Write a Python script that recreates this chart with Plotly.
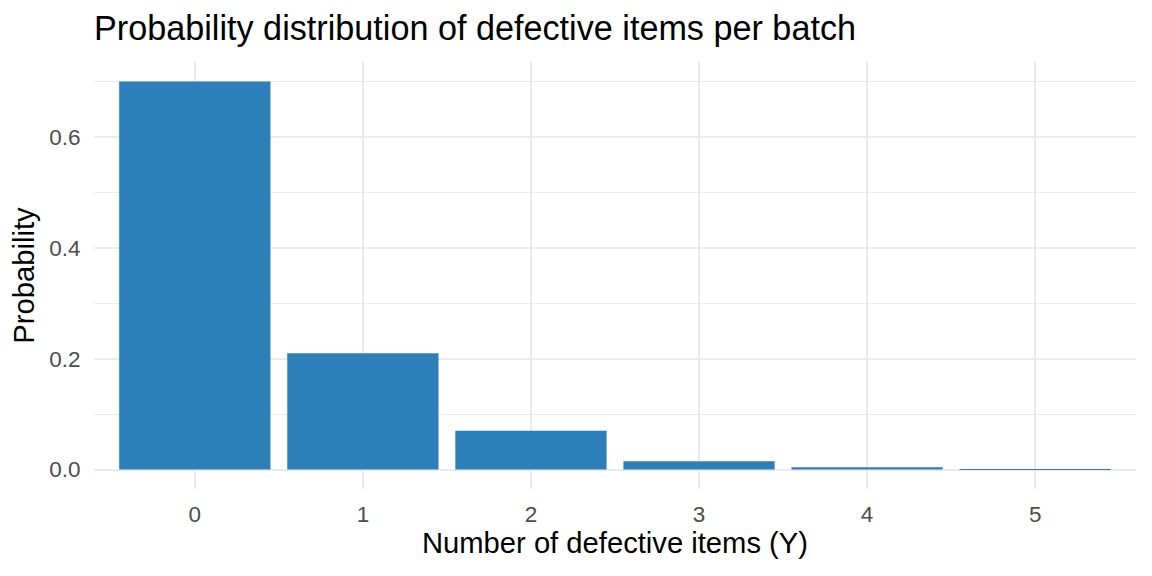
import plotly.graph_objects as go

# Data
defects = [0, 1, 2, 3, 4, 5]
probabilities = [0.70, 0.21, 0.07, 0.015, 0.004, 0.001]

fig = go.Figure()

fig.add_trace(go.Bar(
    x=defects,
    y=probabilities,
    width=0.9,
    marker=dict(color="#2c7fb8", line=dict(width=0)),
))

# page body adds an 8px margin, so the figure is drawn slightly smaller
fig.update_layout(
    width=1136,
    height=560,
    margin=dict(l=86, r=8, t=54, b=79),
    paper_bgcolor="white",
    plot_bgcolor="white",
    font=dict(family="Liberation Sans, Arial, sans-serif", color="black"),
    title=dict(
        text="Probability distribution of defective items per batch",
        font=dict(size=34.2, color="black"),
        x=0, xref="paper", xanchor="left",
        y=1 - 20 / 560, yref="container", yanchor="middle",
    ),
    showlegend=False,
    bargap=0.1,
)

fig.update_xaxes(
    title=dict(text="Number of defective items (Y)", font=dict(size=29.2, color="black"), standoff=5),
    tickmode="array",
    tickvals=defects,
    ticktext=[str(d) for d in defects],
    range=[-0.6, 5.6],
    tickfont=dict(size=22.5, color="#4d4d4d"),
    showgrid=True,
    gridcolor="#ebebeb",
    gridwidth=2,
    zeroline=False,
    showline=False,
    ticks="outside",
    ticklen=5,
    tickcolor="rgba(0,0,0,0)",
)

fig.update_yaxes(
    title=dict(text="Probability", font=dict(size=29.2, color="black"), standoff=6),
    range=[-0.035, 0.735],
    tickmode="array",
    tickvals=[0.0, 0.2, 0.4, 0.6],
    ticktext=["0.0", "0.2", "0.4", "0.6"],
    tickfont=dict(size=22.5, color="#4d4d4d"),
    showgrid=True,
    gridcolor="#ebebeb",
    gridwidth=2,
    minor=dict(tickvals=[0.1, 0.3, 0.5, 0.7], showgrid=True, gridcolor="#ebebeb", gridwidth=1),
    zeroline=False,
    showline=False,
    ticks="outside",
    ticklen=8,
    tickcolor="rgba(0,0,0,0)",
)

fig.write_html("out.html")
